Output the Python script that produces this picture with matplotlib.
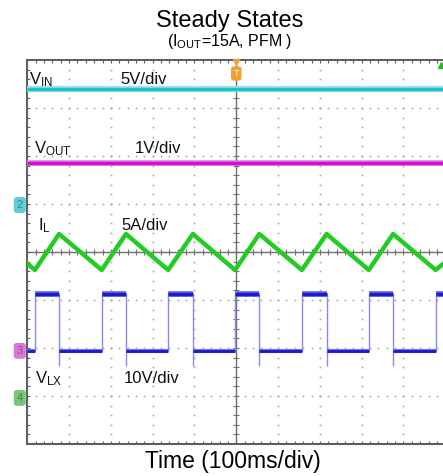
import numpy as np
import matplotlib
matplotlib.use('Agg')
import matplotlib.pyplot as plt

plt.rcParams['font.family'] = ['Liberation Sans', 'DejaVu Sans']
plt.rcParams['mathtext.fontset'] = 'custom'
plt.rcParams['mathtext.rm'] = 'Liberation Sans'
plt.rcParams['mathtext.it'] = 'Liberation Sans'

# screen: 10 div x 100 ms, 8 div vertically (values below are in div)
t_min, t_max = 0, 1000
vin_level = 7.40
vout_level = 5.85

# switching edges (ms)
lx_rise = [18, 178, 337, 497, 657, 817, 977]
lx_fall = [76, 236, 396, 555, 716, 875]
lx_high = 3.125
lx_low = 1.94
lx_spike = 1.62

# inductor current vertices (ms, div)
il_t = [0, 18, 76, 178, 236, 337, 396, 497, 555, 657, 716, 817, 875, 977, 1000]
il_v = [3.76, 3.625, 4.375, 3.625, 4.375, 3.625, 4.375, 3.625, 4.375, 3.625,
        4.375, 3.625, 4.375, 3.625, 3.79]

labels = [
    (4, 7.49, r'V$_{\rm IN}$'), (222, 7.50, '5V/div'),
    (16, 6.06, r'V$_{\rm OUT}$'), (256, 6.07, '1V/div'),
    (26, 4.46, r'I$_{\rm L}$'), (224, 4.46, '5A/div'),
    (18, 1.27, r'V$_{\rm LX}$'), (231, 1.27, '10V/div'),
]

ch_markers = [('2', 4.98, '#62cdd6', '#2a8f99'),
              ('3', 1.94, '#d77ad7', '#a040a0'),
              ('4', 0.96, '#7cc47c', '#3c8a3c')]

fig = plt.figure(figsize=(4.43, 4.76), dpi=100)
ax = fig.add_axes([27.3 / 443, 32 / 476, 418 / 443, 384 / 476])
ax.set_xlim(t_min, t_max)
ax.set_ylim(0, 8)

# dotted grid
gc = '#a8a8a8'
for gx in range(100, 1000, 100):
    if gx == 500:
        continue
    yy = np.arange(0.2, 8, 0.2)
    ax.plot(np.full_like(yy, gx), yy, ls='none', marker='s', ms=1.2, color=gc, mec='none')
for gy in range(1, 8):
    if gy == 4:
        continue
    xx = np.arange(20, 1000, 20)
    ax.plot(xx, np.full_like(xx, gy, dtype=float), ls='none', marker='s', ms=1.2, color=gc, mec='none')

# center cross with minor ticks
cc = '#707070'
ax.axhline(4, color=cc, lw=1.0, zorder=1)
ax.axvline(500, color=cc, lw=1.0, zorder=1)
xx = np.arange(20, 1000, 20)
ax.plot(xx, np.full_like(xx, 4.0, dtype=float), ls='none', marker='|', ms=5, mew=0.8, color=cc)
yy = np.arange(0.2, 8, 0.2)
ax.plot(np.full_like(yy, 500), yy, ls='none', marker='_', ms=5, mew=0.8, color=cc)

# traces
ax.plot([t_min, t_max], [vin_level, vin_level], color='#9fe3e3', lw=4.5, solid_capstyle='butt', zorder=3)
ax.plot([t_min, t_max], [vin_level, vin_level], color='#19c3c9', lw=2.5, solid_capstyle='butt', zorder=3)
ax.plot([t_min, t_max], [vout_level, vout_level], color='#e27fe2', lw=4.0, solid_capstyle='butt', zorder=3)
ax.plot([t_min, t_max], [vout_level, vout_level], color='#d010d0', lw=2.5, solid_capstyle='butt', zorder=3)
ax.plot(il_t, il_v, color='#22cc22', lw=3.2, zorder=3)

# switch node: thick levels, thin edges
blue = '#1a1ad0'
edge = '#8a8ae8'
hi_start = lx_rise
hi_end = lx_fall + [t_max]
lo_start = [t_min] + lx_fall
lo_end = lx_rise
ax.vlines(lx_rise, lx_low, lx_high, color=edge, lw=1.0, zorder=3)
ax.vlines(lx_fall, lx_spike, lx_high, color=edge, lw=1.0, zorder=3)
ax.hlines([lx_high] * len(hi_start), hi_start, hi_end, color='#7070e0', lw=4.2, zorder=4)
ax.hlines([lx_high] * len(hi_start), hi_start, hi_end, color=blue, lw=2.5, zorder=4)
ax.hlines([lx_low] * len(lo_start), lo_start, lo_end, color='#7070e0', lw=3.0, zorder=4)
ax.hlines([lx_low] * len(lo_start), lo_start, lo_end, color=blue, lw=2.0, zorder=4)

for x, y, s in labels:
    ax.text(x, y, s, fontsize=12, va='baseline', ha='left', color='#111111', zorder=6)

# channel markers on left edge
for num, y, fc, tc in ch_markers:
    ax.text(-18, y, num, fontsize=8, ha='center', va='center', color=tc, clip_on=False,
            bbox=dict(boxstyle='round,pad=0.2', fc=fc, ec=fc), zorder=6)

# trigger markers on top
ax.plot([500], [7.95], marker='v', ms=5, color='#f0a030', clip_on=False, zorder=6)
ax.text(500, 7.72, 'T', fontsize=6.5, ha='center', va='center', color='white', zorder=6,
        bbox=dict(boxstyle='round,pad=0.2', fc='#f0a030', ec='#f0a030'))
ax.plot([990], [7.9], marker='^', ms=5, color='#22bb22', clip_on=False, zorder=6)

# frame
for side in ['top', 'left', 'bottom']:
    ax.spines[side].set_color('#606060')
    ax.spines[side].set_linewidth(1.5)
ax.spines['right'].set_visible(False)
ax.set_xticks([])
ax.set_yticks([])
ax.set_xticks(np.arange(20, 1000, 20), minor=True)
ax.set_yticks(np.arange(0.2, 8, 0.2), minor=True)
ax.tick_params(which='minor', direction='in', length=2.5, width=0.8, color='#606060',
               top=True, bottom=True, left=True, right=False,
               labelbottom=False, labelleft=False)

fig.text(0.518, 1 - 27 / 476, 'Steady States', fontsize=17, ha='center', va='baseline')
fig.text(0.518, 1 - 46 / 476, r'(I$_{\rm OUT}$=15A, PFM )', fontsize=11.5, ha='center', va='baseline')
fig.text(0.525, 1 - 468 / 476, 'Time (100ms/div)', fontsize=16.5, ha='center', va='baseline')

fig.savefig('out.png', dpi=100)
